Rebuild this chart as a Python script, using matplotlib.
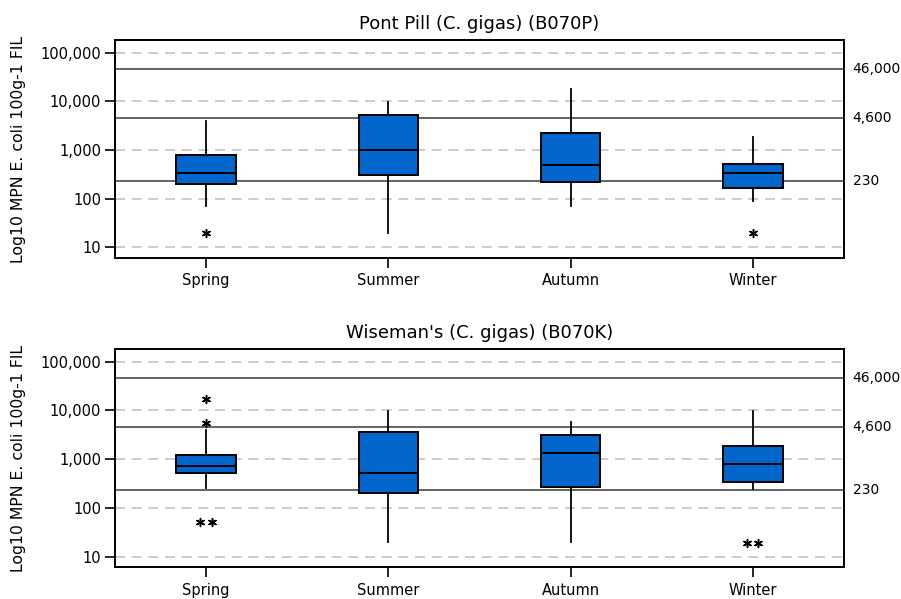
import numpy as np
import matplotlib
matplotlib.use("Agg")
import matplotlib.pyplot as plt
import matplotlib.transforms as mtransforms
from matplotlib.ticker import FixedLocator, NullLocator

plt.rcParams['font.family'] = ['DejaVu Sans']

seasons = ["Spring", "Summer", "Autumn", "Winter"]

# Pont Pill (B070P): five-number summaries
pp_whislo = [70, 20, 70, 90]
pp_q1 = [197, 311, 223, 166]
pp_med = [337, 1000, 492, 337]
pp_q3 = [778, 5200, 2270, 523]
pp_whishi = [3900, 9800, 17900, 1850]
pp_fliers = [[20], [], [], [20]]

# Wiseman's (B070K)
wm_whislo = [257, 20, 20, 238]
wm_q1 = [523, 197, 262, 332]
wm_med = [728, 523, 1310, 778]
wm_q3 = [1225, 3540, 3070, 1825]
wm_whishi = [3900, 9700, 5680, 9700]
wm_fliers = [[17100, 5420, 51, 51], [], [], [19, 19]]

ref_levels = [230, 4600, 46000]
ref_labels = ["230", "4,600", "46,000"]
ytick_vals = [10, 100, 1000, 10000, 100000]
ytick_labels = ["10", "100", "1,000", "10,000", "100,000"]

panels = [
    ("Pont Pill (C. gigas) (B070P)", pp_whislo, pp_q1, pp_med, pp_q3, pp_whishi, pp_fliers),
    ("Wiseman's (C. gigas) (B070K)", wm_whislo, wm_q1, wm_med, wm_q3, wm_whishi, wm_fliers),
]

fig = plt.figure(figsize=(9.01, 5.99), dpi=100)
rects = [[0.1276, 0.5693, 0.8091, 0.3639], [0.1276, 0.0529, 0.8091, 0.3645]]

box_col = "#0066CC"

for rect, (title, lo, q1, med, q3, hi, fl) in zip(rects, panels):
    ax = fig.add_axes(rect)
    ax.set_yscale("log")
    ax.set_ylim(6.0, 182000)
    ax.set_xlim(0.5, 4.5)

    # grid at decades
    for v in ytick_vals:
        ax.axhline(v, color="#c4c4c4", lw=1.2, ls=(0, (6, 4)), zorder=0)
    for v in ref_levels:
        ax.axhline(v, color="#3a3a3a", lw=1.1, zorder=1)

    stats = []
    for i in range(len(seasons)):
        stats.append(dict(whislo=lo[i], q1=q1[i], med=med[i], q3=q3[i],
                          whishi=hi[i], fliers=[]))
    ax.bxp(stats, positions=np.arange(1, 5), widths=0.326, patch_artist=True,
           showcaps=False, showfliers=False,
           boxprops=dict(facecolor=box_col, edgecolor="black", linewidth=1.4),
           medianprops=dict(color="black", linewidth=1.4),
           whiskerprops=dict(color="black", linewidth=1.3), zorder=3)

    # outliers, side by side when values repeat
    for i, vals in enumerate(fl):
        uniq = sorted(set(vals))
        for v in uniq:
            n = vals.count(v)
            offs = (np.arange(n) - (n - 1) / 2) * 0.062
            ax.scatter(i + 1 + offs, [v] * n, marker=(6, 2, 0), s=32,
                       color="black", linewidths=1.1, zorder=4)

    ax.yaxis.set_major_locator(FixedLocator(ytick_vals))
    ax.yaxis.set_minor_locator(NullLocator())
    ax.set_yticklabels(ytick_labels)
    ax.set_xticks(np.arange(1, 5))
    ax.set_xticklabels(seasons)
    ax.tick_params(axis="both", direction="out", length=7, width=1.2,
                   labelsize=10.5, colors="black", pad=3)
    ax.tick_params(axis="x", pad=4)
    for s in ax.spines.values():
        s.set_linewidth(1.4)

    trans = mtransforms.blended_transform_factory(ax.transAxes, ax.transData)
    for v, lab in zip(ref_levels, ref_labels):
        ax.text(1.012, v, lab, transform=trans, ha="left", va="center", fontsize=10)

    ax.set_title(title, fontsize=13, pad=8)
    ax.set_ylabel("Log10 MPN E. coli 100g-1 FIL", fontsize=11.3, labelpad=10)

fig.savefig("out.png", dpi=100)
